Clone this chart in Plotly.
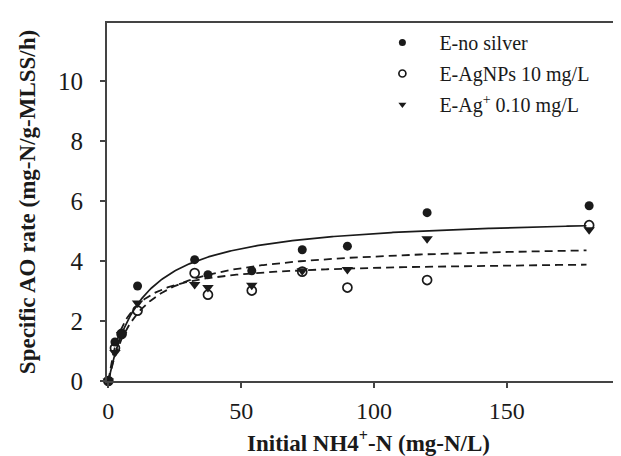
import numpy as np
import plotly.graph_objects as go

# ---- data ----
x_nh4 = [0, 2.5, 5, 11, 32.5, 37.5, 54, 73, 90, 120, 181]
no_silver = [0, 1.3, 1.57, 3.17, 4.05, 3.55, 3.68, 4.38, 4.5, 5.62, 5.85]
agnps = [0, 1.1, 1.57, 2.35, 3.6, 2.88, 3.02, 3.65, 3.12, 3.37, 5.2]
ag_ion = [0, 0.95, 1.55, 2.6, 3.22, 3.12, 3.2, 3.68, 3.72, 4.75, 5.05]

# Monod fit parameters (Vmax, Ks) estimated from the drawn curves
fit_no_silver = (5.55, 12.8)
fit_ag_ion = (4.64, 11.6)
fit_agnps = (4.02, 6.4)

legend_names = ["E-no silver", "E-AgNPs 10 mg/L", "E-Ag<sup>+</sup> 0.10 mg/L"]
x_title = "<b>Initial NH4<sup>+</sup>-N (mg-N/L)</b>"
y_title = "<b>Specific AO rate (mg-N/g-MLSS/h)</b>"
x_ticks = [0, 50, 100, 150]
y_ticks = [0, 2, 4, 6, 8, 10]

ink = "#1a1a1a"
s_fit = np.linspace(0, 180, 300)


def monod(p):
    vmax, ks = p
    return vmax * s_fit / (ks + s_fit)


fig = go.Figure()
fig.add_trace(go.Scatter(x=s_fit, y=monod(fit_no_silver), mode="lines",
                         line=dict(color=ink, width=1.7), showlegend=False))
fig.add_trace(go.Scatter(x=s_fit, y=monod(fit_ag_ion), mode="lines",
                         line=dict(color=ink, width=1.8, dash="8px,5px"), showlegend=False))
fig.add_trace(go.Scatter(x=s_fit, y=monod(fit_agnps), mode="lines",
                         line=dict(color=ink, width=1.8, dash="8px,5px"), showlegend=False))

marker_styles = [
    dict(symbol="circle", color=ink),
    dict(symbol="circle-open", color=ink, line=dict(width=1.7, color=ink)),
    dict(symbol="triangle-down", color=ink),
]
series = [no_silver, agnps, ag_ion]
plot_sizes = [9, 9, 10]
for i, (vals, ms) in enumerate(zip(series, marker_styles)):
    fig.add_trace(go.Scatter(x=x_nh4, y=vals, mode="markers", showlegend=False,
                             legendgroup=f"g{i}",
                             marker=dict(size=plot_sizes[i], **ms), cliponaxis=False))
    # legend entry with smaller symbol, as in the reference
    fig.add_trace(go.Scatter(x=[None], y=[None], mode="markers", name=legend_names[i],
                             legendgroup=f"g{i}", marker=dict(size=7, **ms)))

serif = "Liberation Serif, Times New Roman, serif"
fig.update_layout(
    width=621, height=456,
    margin=dict(l=99, r=0, t=15, b=83),
    paper_bgcolor="white", plot_bgcolor="white",
    font=dict(family=serif, color=ink),
    legend=dict(x=0.495, y=1.0, xanchor="left", yanchor="top",
                font=dict(size=20, family=serif, color=ink),
                bgcolor="rgba(0,0,0,0)", itemsizing="trace", itemwidth=64,
                tracegroupgap=2),
    xaxis=dict(range=[-0.5, 196], tickvals=x_ticks, showgrid=False, zeroline=False,
               showline=True, linecolor="#444", linewidth=2, mirror=True,
               ticks="outside", ticklen=5, tickcolor="#444", tickwidth=1.5,
               tickfont=dict(size=24, family=serif, color=ink), ticklabelstandoff=2,
               automargin=False),
    yaxis=dict(range=[0, 11.95], tickvals=y_ticks, showgrid=False, zeroline=False,
               showline=True, linecolor="#444", linewidth=2,
               ticks="outside", ticklen=5, tickcolor="#444", tickwidth=1.5,
               tickfont=dict(size=25, family=serif, color=ink), ticklabelstandoff=12,
               automargin=False,
               title=dict(text=y_title,
                          font=dict(size=23, family=serif, color=ink), standoff=16)),
    annotations=[dict(text=x_title, xref="paper", yref="paper", x=0.5, y=-0.168,
                      xanchor="center", yanchor="middle", showarrow=False,
                      font=dict(size=23, family=serif, color=ink))],
)

fig.write_html("out.html")
